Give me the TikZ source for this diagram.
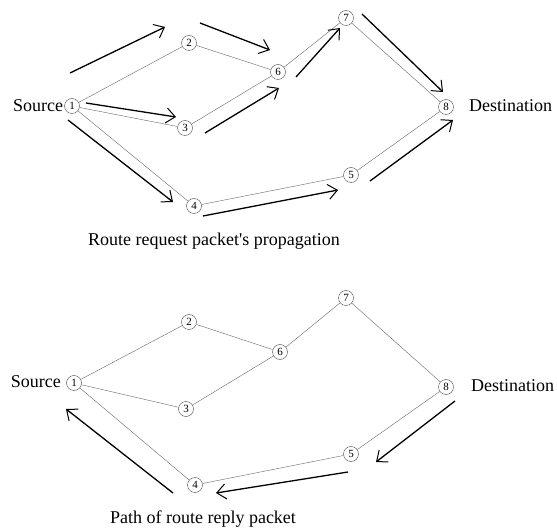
\documentclass[tikz,border=0pt]{standalone}
\usepackage{fontspec}
\setmainfont{Liberation Serif}
\usetikzlibrary{arrows.meta}
\tikzset{
  host/.style={draw=black!70,circle,thin,inner sep=0pt,minimum size=15pt,font=\fontsize{11}{11}\selectfont},
  link/.style={draw=black!60,thin},
  pkt/.style={draw=black,line width=1.3pt,-{Straight Barb[length=9pt,width=15pt,line width=1pt]}},
  lbl/.style={font=\fontsize{18}{20}\selectfont,inner sep=1pt}
}
\begin{document}
\begin{tikzpicture}[x=1pt,y=-1pt]
\useasboundingbox (0,0) rectangle (557,529);
\node[host] (a1) at (72,106) {1};
\node[host] (a2) at (189,43) {2};
\node[host] (a3) at (185,128) {3};
\node[host] (a4) at (194,206) {4};
\node[host] (a5) at (351,175) {5};
\node[host] (a6) at (278,72) {6};
\node[host] (a7) at (346,18) {7};
\node[host] (a8) at (446,107) {8};
\node[lbl,anchor=east] (asrc) at (a1.west) {Source};
\node[lbl,anchor=west] (adst) at (468,106) {Destination};
\draw[link] (a1) -- (a2) -- (a6) -- (a7) -- (a8) -- (a5) -- (a4) -- (a1) -- (a3) -- (a6);
\coordinate (p1) at (70,73);   \coordinate (q1) at (165,27);
\coordinate (p2) at (200,23);  \coordinate (q2) at (270,50);
\coordinate (p3) at (86,103);  \coordinate (q3) at (176,117);
\coordinate (p4) at (205,133); \coordinate (q4) at (279,88);
\coordinate (p5) at (296,77);  \coordinate (q5) at (340,28);
\coordinate (p6) at (362,14);  \coordinate (q6) at (443,92);
\coordinate (p7) at (68,120);  \coordinate (q7) at (173,202);
\coordinate (p8) at (203,216); \coordinate (q8) at (338,190);
\coordinate (p9) at (370,181); \coordinate (q9) at (453,120);
\draw[pkt] (p1) -- (q1);
\draw[pkt] (p2) -- (q2);
\draw[pkt] (p3) -- (q3);
\draw[pkt] (p4) -- (q4);
\draw[pkt] (p5) -- (q5);
\draw[pkt] (p6) -- (q6);
\draw[pkt] (p7) -- (q7);
\draw[pkt] (p8) -- (q8);
\draw[pkt] (p9) -- (q9);
\node[lbl] (areq) at (214,241) {Route request packet\textquotesingle s propagation};

\node[host] (b1) at (74,383) {1};
\node[host] (b2) at (189,322) {2};
\node[host] (b3) at (186,409) {3};
\node[host] (b4) at (195,485) {4};
\node[host] (b5) at (351,454) {5};
\node[host] (b6) at (280,352) {6};
\node[host] (b7) at (346,298) {7};
\node[host] (b8) at (446,387) {8};
\node[lbl,anchor=east] (bsrc) at (62,382) {Source};
\node[lbl,anchor=west] (bdst) at (470,386) {Destination};
\draw[link] (b1) -- (b2) -- (b6) -- (b7) -- (b8) -- (b5) -- (b4) -- (b1) -- (b3) -- (b6);
\coordinate (r1) at (455,401); \coordinate (s1) at (376,462);
\coordinate (r2) at (348,472); \coordinate (s2) at (216,493);
\coordinate (r3) at (173,493); \coordinate (s3) at (66,409);
\draw[pkt] (r1) -- (s1);
\draw[pkt] (r2) -- (s2);
\draw[pkt] (r3) -- (s3);
\node[lbl] (brep) at (203,519) {Path of route reply packet};
\end{tikzpicture}
\end{document}
